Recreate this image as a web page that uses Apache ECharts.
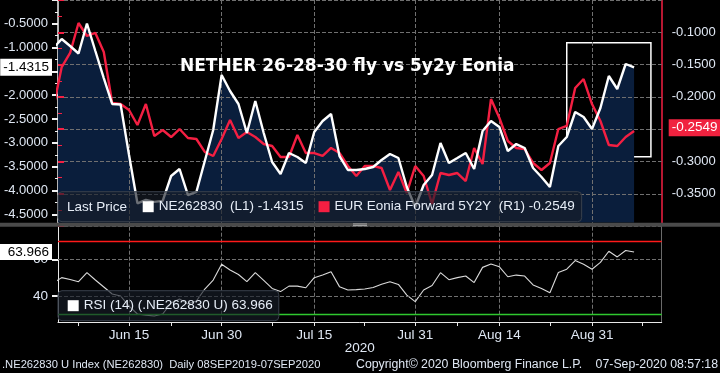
<!DOCTYPE html>
<html><head><meta charset="utf-8">
<script src="https://cdn.jsdelivr.net/npm/echarts@6/dist/echarts.min.js"></script>
<style>html,body{margin:0;padding:0;background:#000;}#c{width:720px;height:373px;}</style>
</head><body><div id="c"></div>
<script>
// ---- data (weekday categories, Jun 2 .. Sep 10, 2020) ----
const dates = ['Jun 2','Jun 3','Jun 4','Jun 5','Jun 8','Jun 9','Jun 10','Jun 11','Jun 12','Jun 15','Jun 16','Jun 17','Jun 18','Jun 19','Jun 22','Jun 23','Jun 24','Jun 25','Jun 26','Jun 29','Jun 30','Jul 1','Jul 2','Jul 3','Jul 6','Jul 7','Jul 8','Jul 9','Jul 10','Jul 13','Jul 14','Jul 15','Jul 16','Jul 17','Jul 20','Jul 21','Jul 22','Jul 23','Jul 24','Jul 27','Jul 28','Jul 29','Jul 30','Jul 31','Aug 3','Aug 4','Aug 5','Aug 6','Aug 7','Aug 10','Aug 11','Aug 12','Aug 13','Aug 14','Aug 17','Aug 18','Aug 19','Aug 20','Aug 21','Aug 24','Aug 25','Aug 26','Aug 27','Aug 28','Aug 31','Sep 1','Sep 2','Sep 3','Sep 4','Sep 7','Sep 8','Sep 9','Sep 10'];
const tickLabels = ['Jun 15','Jun 30','Jul 15','Jul 31','Aug 14','Aug 31'];
const tickMarks = ['Jun 5','Jun 15','Jun 22','Jun 30','Jul 8','Jul 15','Jul 23','Jul 31','Aug 7','Aug 14','Aug 24','Aug 31','Sep 8'];

// NE262830 fly (left axis), Jun 2 .. Sep 7
const flyValues = [-1.03,-0.84,-0.986,-1.143,-0.517,-1.091,-1.655,-2.197,-2.208,-3.262,-4.27,-4.20,-4.24,-4.22,-3.70,-3.554,-4.097,-4.034,-3.387,-2.74,-1.592,-1.926,-2.197,-2.803,-2.135,-2.803,-3.408,-3.659,-3.22,-3.304,-3.429,-2.782,-2.552,-2.406,-3.283,-3.575,-3.575,-3.554,-3.512,-3.366,-3.241,-3.325,-3.93,-4.348,-3.888,-3.68,-3.012,-3.429,-3.325,-3.22,-3.554,-2.761,-2.552,-2.678,-3.179,-3.033,-3.116,-3.533,-3.721,-3.93,-3.074,-2.886,-2.364,-2.469,-2.719,-2.281,-1.613,-1.884,-1.362,-1.4315];
// EUR Eonia Forward 5Y2Y (right axis)
const eoniaValues = [-0.22,-0.1575,-0.1361,-0.0904,-0.1102,-0.1056,-0.1346,-0.2123,-0.2139,-0.223,-0.2459,-0.2139,-0.2627,-0.2535,-0.2642,-0.252,-0.2657,-0.2672,-0.287,-0.2931,-0.2672,-0.2383,-0.2657,-0.2566,-0.2642,-0.2748,-0.2779,-0.2947,-0.2947,-0.2611,-0.2886,-0.2886,-0.2931,-0.2809,-0.2886,-0.3084,-0.3236,-0.3084,-0.3084,-0.3114,-0.345,-0.3175,-0.3495,-0.3084,-0.3236,-0.3663,-0.3191,-0.3221,-0.3191,-0.3313,-0.2809,-0.3053,-0.2063,-0.2352,-0.2703,-0.2809,-0.2825,-0.3038,-0.3145,-0.3038,-0.252,-0.2474,-0.1895,-0.1758,-0.2139,-0.2398,-0.2764,-0.2779,-0.2642,-0.2549];
// RSI (14)
const rsiValues = [47.1,50.0,49.0,47.8,52.7,48.7,44.9,41.1,40.0,34.5,30.2,29.6,29.1,30.2,36.2,38.4,35.6,37.3,43.8,48.7,57.3,54.2,51.7,47.8,52.7,48.5,44.1,42.4,45.4,45.4,44.5,50.0,51.4,53.2,45.1,43.3,43.5,43.8,44.6,46.4,47.8,46.3,40.5,36.9,43.3,45.7,52.7,48.9,50.0,50.9,47.3,55.6,57.4,55.9,50.5,51.4,50.9,46.0,44.1,41.8,52.8,54.6,59.3,57.3,54.6,58.3,64.4,61.3,64.8,63.966];

const lastFly = -1.4315, lastEonia = -0.2549, lastRsi = 63.966;
const rsiUpper = 70, rsiLower = 30, rsiGrid = [40, 60];
const boxFrom = 'Aug 26', boxTo = 'Sep 9', boxTop = -0.92, boxBottom = -3.30;

// ---- styling ----
const FONT = 'Liberation Sans';
const TXT = '#dfe7f3';
const RED = '#f41f42';
const gridLine = () => ({color:'#707070', type:'dashed', width:1});
const hideLine = () => ({color:'rgba(0,0,0,0)', width:1});

const pairs = arr => arr.map((v,i)=>[i,v]);
const hiddenX = g => ({gridIndex:g, type:'value', min:0, max:1, show:false});
const hiddenY = g => ({gridIndex:g, type:'value', min:0, max:1, show:false});

const option = {
  backgroundColor:'#000',
  animation:false,
  title:[
    {text:'NETHER 26-28-30 fly vs 5y2y Eonia', left:180, top:57, padding:0,
     textStyle:{color:'#fff', fontSize:17, fontWeight:'bold', fontFamily:'DejaVu Sans', lineHeight:20}},
    {text:'Last Price', left:67, top:199.5, padding:0, z:12,
     textStyle:{color:'#e6edf7', fontSize:13.5, fontWeight:'normal', fontFamily:FONT, lineHeight:16}},
    {text:'.NE262830 U Index (NE262830)  Daily 08SEP2019-07SEP2020', left:2, top:357, padding:0,
     textStyle:{color:TXT, fontSize:11.2, fontWeight:'normal', fontFamily:FONT, lineHeight:15}},
    {text:'Copyright\u00a9 2020 Bloomberg Finance L.P.', left:356, top:357, padding:0,
     textStyle:{color:TXT, fontSize:12.3, fontWeight:'normal', fontFamily:FONT, lineHeight:15}},
    {text:'07-Sep-2020 08:57:18', right:2, top:357, padding:0,
     textStyle:{color:TXT, fontSize:12.3, fontWeight:'normal', fontFamily:FONT, lineHeight:15}}
  ],
  legend:[
    {left:58, top:191.7, padding:[7,7,7,84.7], itemWidth:11, itemHeight:11, itemGap:15, icon:'rect',
     selectedMode:false, z:10, backgroundColor:'rgba(24,30,40,0.64)', borderColor:'#39414c', borderWidth:1, borderRadius:4,
     textStyle:{color:'#e6edf7', fontSize:13.5, fontFamily:FONT, lineHeight:16},
     data:['NE262830','EUR Eonia Forward 5Y2Y'],
     formatter: n => n === 'NE262830' ? n + '  (L1) ' + lastFly.toFixed(4) : n + '  (R1) ' + lastEonia.toFixed(4)},
    {left:58, top:290.7, padding:[7,6,7,9.7], itemWidth:11, itemHeight:11, icon:'rect',
     selectedMode:false, z:10, backgroundColor:'rgba(24,30,40,0.64)', borderColor:'#39414c', borderWidth:1, borderRadius:4,
     textStyle:{color:'#e6edf7', fontSize:13.5, fontFamily:FONT, lineHeight:16},
     data:['RSI (14) (.NE262830 U)'],
     formatter: n => n + ' ' + lastRsi.toFixed(3)}
  ],
  grid:[
    {left:58, top:0, width:603.7, height:222.7},        // 0 main data
    {left:58, top:-1.25, width:603.7, height:215.55},   // 1 left labels
    {left:58, top:-3.5, width:603.7, height:229.6},     // 2 right labels + gridlines
    {left:53.28, top:0, width:606.1, height:222.7},     // 3 main vertical gridlines
    {left:58, top:226.7, width:603.7, height:95.3},     // 4 RSI data
    {left:58, top:259.3, width:603.7, height:36.7},     // 5 RSI labels
    {left:53.28, top:226.7, width:606.1, height:95.3}   // 6 RSI date axis
  ],
  xAxis:[
    {gridIndex:0, type:'value', min:0.561, max:72.28, show:false},
    hiddenX(1),
    hiddenX(2),
    {gridIndex:3, type:'category', data:dates, boundaryGap:false, z:2,
     axisLine:{show:false}, axisTick:{show:false}, axisLabel:{show:false},
     splitLine:{show:true, interval:(i,v)=>tickLabels.includes(v), lineStyle:gridLine()}},
    {gridIndex:4, type:'value', min:0.561, max:72.28,
     axisLine:{show:true, onZero:false, lineStyle:{color:'#e8e8e8', width:1}},
     axisTick:{show:false}, axisLabel:{show:false}, splitLine:{show:false},
     name:'2020', nameLocation:'middle', nameGap:19,
     nameTextStyle:{color:TXT, fontSize:13.5, fontFamily:FONT}},
    hiddenX(5),
    {gridIndex:6, type:'category', data:dates, boundaryGap:false, z:2,
     axisLine:{show:false},
     axisTick:{show:true, interval:(i,v)=>tickMarks.includes(v), length:4, lineStyle:{color:'#e8e8e8'}},
     axisLabel:{show:true, interval:(i,v)=>tickLabels.includes(v), color:TXT, fontSize:13.5, fontFamily:FONT, margin:6},
     splitLine:{show:true, interval:(i,v)=>tickLabels.includes(v), lineStyle:gridLine()}}
  ],
  yAxis:[
    {gridIndex:0, type:'value', position:'left', min:-4.675, max:-0.0261,
     axisLine:{show:true, onZero:false, lineStyle:{color:'#f2f2f2', width:1.5}},
     axisTick:{show:false}, axisLabel:{show:false}, splitLine:{show:false}},
    {gridIndex:0, type:'value', position:'right', min:-0.39482, max:-0.05534,
     axisLine:{show:true, onZero:false, lineStyle:{color:RED, width:1.5}},
     axisTick:{show:false}, axisLabel:{show:false}, splitLine:{show:false}},
    {gridIndex:1, type:'value', position:'left', min:-4.5, max:0, interval:0.5,
     axisLine:{show:false},
     axisTick:{show:true, length:6, lineStyle:{color:'#f2f2f2', width:2}},
     minorTick:{show:true, splitNumber:2, length:3, lineStyle:{color:'#f2f2f2'}},
     axisLabel:{color:TXT, fontSize:13, fontFamily:FONT, margin:10, showMaxLabel:false, formatter:v=>v.toFixed(4)},
     splitLine:{show:false}},
    {gridIndex:2, type:'value', position:'right', min:-0.4, max:-0.05, interval:0.05, z:2,
     axisLine:{show:false},
     axisTick:{show:true, length:6, lineStyle:{color:RED, width:2}},
     minorTick:{show:true, splitNumber:2, length:4, lineStyle:{color:RED}},
     axisLabel:{color:TXT, fontSize:13, fontFamily:FONT, margin:10, showMinLabel:false, showMaxLabel:false, formatter:v=>v.toFixed(4)},
     splitLine:{show:true, lineStyle:gridLine()}},
    hiddenY(3),
    {gridIndex:4, type:'value', position:'left', min:25.83, max:77.77,
     axisLine:{show:true, onZero:false, lineStyle:{color:'#e8e8e8'}},
     axisTick:{show:false}, axisLabel:{show:false}, splitLine:{show:false}},
    {gridIndex:4, type:'value', position:'right', min:25.83, max:77.77,
     axisLine:{show:true, onZero:false, lineStyle:{color:'#6a6a6a'}},
     axisTick:{show:false}, axisLabel:{show:false}, splitLine:{show:false}},
    {gridIndex:5, type:'value', position:'left', min:40, max:60, interval:20,
     axisLine:{show:false},
     axisTick:{show:true, length:6, lineStyle:{color:'#f2f2f2', width:2}},
     axisLabel:{color:TXT, fontSize:13.5, fontFamily:FONT, margin:10},
     splitLine:{show:false}},
    hiddenY(6)
  ],
  series:[
    {name:'fill', type:'line', xAxisIndex:0, yAxisIndex:0, data:pairs(flyValues), symbol:'none', silent:true, z:1,
     lineStyle:{width:0}, areaStyle:{color:'#0a1e3c', opacity:1, origin:'start'}},
    {name:'EUR Eonia Forward 5Y2Y', type:'line', xAxisIndex:0, yAxisIndex:1, data:pairs(eoniaValues),
     symbol:'none', color:RED, lineStyle:{width:2.4, color:RED}, z:3,
     markLine:{symbol:'none', silent:true, data:[{yAxis:lastEonia}], lineStyle:hideLine(),
       label:{show:true, position:'end', distance:7, formatter:()=>lastEonia.toFixed(4),
         backgroundColor:'#f0223f', color:'#fff', padding:[2,3,1,3], fontSize:13.5, fontFamily:FONT}}},
    {name:'NE262830', type:'line', xAxisIndex:0, yAxisIndex:0, data:pairs(flyValues),
     symbol:'none', color:'#ffffff', lineStyle:{width:2.4, color:'#ffffff'}, z:4,
     markLine:{symbol:'none', silent:true, data:[{yAxis:lastFly}], lineStyle:hideLine(),
       label:{show:true, position:'start', distance:6, formatter:()=>lastFly.toFixed(4),
         backgroundColor:'#ffffff', color:'#000', padding:[2,3,1,3], fontSize:13.5, fontFamily:FONT}},
     markArea:{silent:true, itemStyle:{color:'rgba(0,0,0,0)', borderColor:'#ffffff', borderWidth:1.5},
       data:[[{xAxis:dates.indexOf(boxFrom), yAxis:boxTop},{xAxis:dates.indexOf(boxTo), yAxis:boxBottom}]]}},
    {name:'RSI (14) (.NE262830 U)', type:'line', xAxisIndex:4, yAxisIndex:5, data:pairs(rsiValues),
     symbol:'none', color:'#ffffff', lineStyle:{width:1.1, color:'#dadada'}, z:3,
     markLine:{symbol:'none', silent:true, label:{show:false},
       data:[
         {yAxis:rsiUpper, lineStyle:{color:'#ff1a1a', type:'solid', width:1.3}},
         {yAxis:rsiLower, lineStyle:{color:'#2fc82f', type:'solid', width:1.3}},
         {yAxis:rsiGrid[0], lineStyle:gridLine()},
         {yAxis:rsiGrid[1], lineStyle:gridLine()},
         {yAxis:lastRsi, lineStyle:hideLine(),
          label:{show:true, position:'start', distance:6, formatter:()=>lastRsi.toFixed(3),
            backgroundColor:'#ffffff', color:'#000', padding:[1,3,1,8], fontSize:13.5, fontFamily:FONT}}
       ]}}
  ],
  graphic:[
    {type:'rect', shape:{x:0, y:222.7, width:720, height:4}, style:{fill:'#4a4a4a'}, z:100, silent:true},
    {type:'rect', shape:{x:353, y:223.5, width:14, height:0.9}, style:{fill:'#b4b4b4'}, z:101, silent:true},
    {type:'rect', shape:{x:353, y:225.2, width:14, height:0.9}, style:{fill:'#b4b4b4'}, z:101, silent:true}
  ]
};
const chart = echarts.init(document.getElementById('c'));
chart.setOption(option);
</script></body></html>
